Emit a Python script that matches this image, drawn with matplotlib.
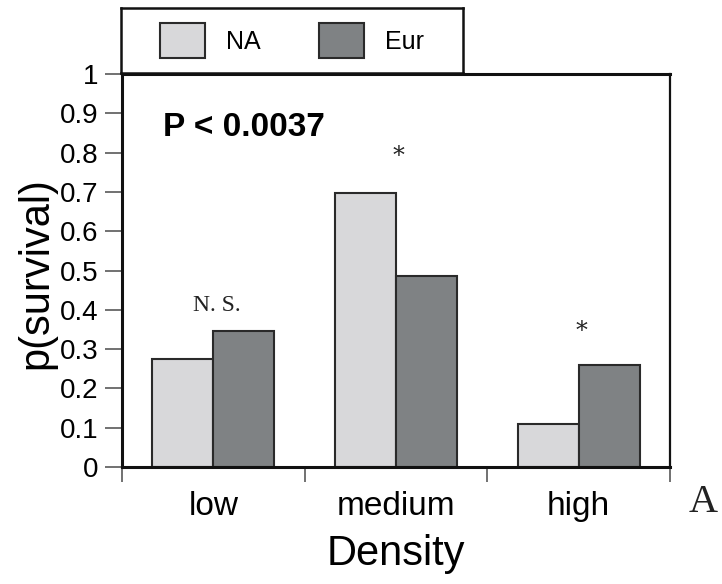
import matplotlib
matplotlib.use("Agg")
import matplotlib.pyplot as plt
from matplotlib.patches import Patch
import numpy as np

plt.rcParams['font.family'] = ['Liberation Sans', 'DejaVu Sans']

# Data
categories = ["low", "medium", "high"]
series_names = ["NA", "Eur"]
na_values = [0.275, 0.697, 0.109]
eur_values = [0.345, 0.486, 0.26]
annotations = ["N.S.", "*", "*"]
annotation_y = [0.41, 0.79, 0.345]
p_text = "P < 0.0037"
y_ticks = [0, 0.1, 0.2, 0.3, 0.4, 0.5, 0.6, 0.7, 0.8, 0.9, 1.0]

na_color = "#d8d8da"
eur_color = "#7f8284"
edge = "#2a2a2a"
star_font = ['DejaVu Serif', 'Liberation Serif']
thin_serif = ['Liberation Serif', 'DejaVu Serif']

fig = plt.figure(figsize=(7.22, 5.84), dpi=100)
ax = fig.add_axes([122 / 722, 1 - 467 / 584, 548 / 722, 393 / 584])

x = np.arange(len(categories))
w = 1 / 3
ax.bar(x - w / 2, na_values, width=w, color=na_color, edgecolor=edge, linewidth=1.5, zorder=2)
ax.bar(x + w / 2, eur_values, width=w, color=eur_color, edgecolor=edge, linewidth=1.5, zorder=2)

ax.set_xlim(-0.5, len(categories) - 0.5)
ax.set_ylim(0, 1)

# y axis
ax.set_yticks(y_ticks)
ax.set_yticklabels([f"{v:g}" for v in y_ticks], fontsize=20)
ax.tick_params(axis='y', direction='out', length=12, width=1.3, color="#666666", pad=5)

# x axis: boundary ticks, labels centred on categories
ax.set_xticks(np.arange(len(categories) + 1) - 0.5)
ax.set_xticklabels([])
ax.set_xticks(x, minor=True)
ax.set_xticklabels(categories, minor=True, fontsize=24)
ax.tick_params(axis='x', which='major', direction='out', length=11, width=1.3, color="#666666")
ax.tick_params(axis='x', which='minor', length=0, pad=17)

for side in ['left', 'bottom', 'top']:
    ax.spines[side].set_linewidth(2.2)
ax.spines['right'].set_linewidth(1.6)
for s in ax.spines.values():
    s.set_color("#111111")

# significance marks
for i, (txt, yy) in enumerate(zip(annotations, annotation_y)):
    if txt == "*":
        ax.text(x[i] + 0.015, yy, txt, ha='center', va='center', fontsize=17,
                family=star_font, color="#222222")
    else:
        ax.text(x[i] + 0.02, yy, txt.replace(".", ". ").strip(), ha='center', va='center',
                fontsize=17, family=thin_serif, color="#222222")

ax.text(0.075, 0.863, p_text, transform=ax.transAxes, fontsize=24, fontweight='bold',
        ha='left', va='center')

# axis titles
fig.text(396 / 722, 1 - 554 / 584, "Density", ha='center', va='center', fontsize=30)
fig.text(36 / 722, 1 - 273 / 584, "p(survival)", ha='center', va='center', fontsize=30,
         rotation=90)
fig.text(703 / 722, 1 - 503 / 584, "A", ha='center', va='center', fontsize=29,
         family=thin_serif, color="#222222")

# legend in its own framed box above the plot
lax = fig.add_axes([121 / 722, 1 - 73 / 584, 342 / 722, 65 / 584])
lax.set_xticks([])
lax.set_yticks([])
for s in lax.spines.values():
    s.set_linewidth(1.8)
    s.set_color("#111111")
handles = [Patch(facecolor=na_color, edgecolor=edge, linewidth=1.5),
           Patch(facecolor=eur_color, edgecolor=edge, linewidth=1.5)]
lax.legend(handles, series_names, loc='center', ncol=2, frameon=False, fontsize=18,
           handlelength=1.8, handleheight=1.72, handletextpad=0.84, columnspacing=2.3,
           borderpad=0, borderaxespad=0)

fig.savefig("out.png", dpi=100)
